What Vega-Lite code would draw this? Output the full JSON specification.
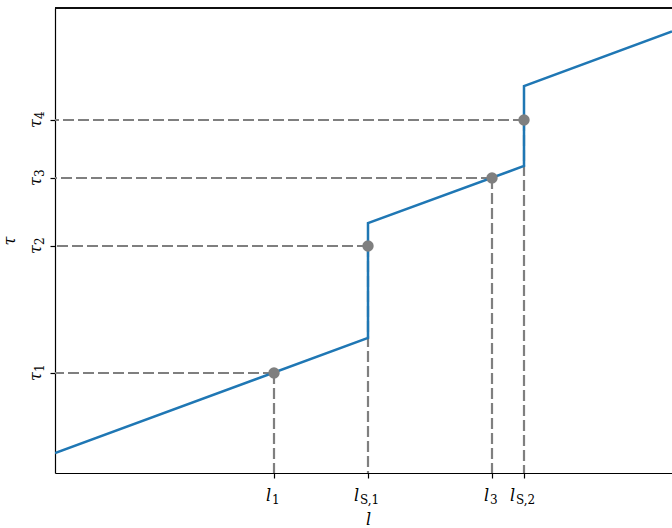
{
  "$schema": "https://vega.github.io/schema/vega-lite/v6.json",
  "width": 617,
  "height": 465,
  "autosize": {"type": "none"},
  "padding": {"left": 55, "top": 8, "right": 0, "bottom": 55},
  "background": "white",
  "config": {"view": {"stroke": null}},
  "datasets": {
    "curve": [
      {"order": 1, "l": 0, "tau": 20},
      {"order": 2, "l": 313, "tau": 135},
      {"order": 3, "l": 313, "tau": 250},
      {"order": 4, "l": 469, "tau": 307},
      {"order": 5, "l": 469, "tau": 387},
      {"order": 6, "l": 617, "tau": 441.5}
    ],
    "pts": [
      {"l": 219, "tau": 100, "name": "1"},
      {"l": 313, "tau": 227, "name": "2"},
      {"l": 437, "tau": 295, "name": "3"},
      {"l": 469, "tau": 353, "name": "4"}
    ],
    "xlabels": [
      {"l": 219, "main": "l", "sub": "1", "kind": "short"},
      {"l": 313, "main": "l", "sub": "S,1", "kind": "long"},
      {"l": 437, "main": "l", "sub": "3", "kind": "short"},
      {"l": 469, "main": "l", "sub": "S,2", "kind": "long"}
    ],
    "ylabels": [
      {"tau": 100, "main": "τ", "sub": "1"},
      {"tau": 227, "main": "τ", "sub": "2"},
      {"tau": 295, "main": "τ", "sub": "3"},
      {"tau": 353, "main": "τ", "sub": "4"}
    ]
  },
  "layer": [
    {
      "data": {"name": "pts"},
      "mark": {"type": "rule", "color": "#7f7f7f", "strokeWidth": 2.2, "strokeDash": [11, 4]},
      "encoding": {
        "x": {"field": "l", "type": "quantitative", "scale": {"domain": [0, 617], "nice": false, "zero": false},
              "axis": {"values": [219, 313, 437, 469], "labels": false, "grid": false, "domainColor": "black", "domainWidth": 1.2,
                       "tickColor": "black", "tickSize": 5, "tickWidth": 1.2,
                       "title": "l", "titleFont": "DejaVu Serif", "titleFontStyle": "italic", "titleFontWeight": "normal",
                       "titleFontSize": 16, "titleColor": "black", "titlePadding": 33, "titleX": 313}},
        "x2": {"datum": 0},
        "y": {"field": "tau", "type": "quantitative", "scale": {"domain": [0, 465], "nice": false, "zero": false},
              "axis": {"values": [100, 227, 295, 353], "labels": false, "grid": false, "domainColor": "black", "domainWidth": 1.2,
                       "tickColor": "black", "tickSize": 5, "tickWidth": 1.2,
                       "title": "τ", "titleFont": "DejaVu Serif", "titleFontStyle": "italic", "titleFontWeight": "normal",
                       "titleFontSize": 16, "titleColor": "black", "titlePadding": 32}}
      }
    },
    {
      "data": {"name": "pts"},
      "mark": {"type": "rule", "color": "#7f7f7f", "strokeWidth": 2.2, "strokeDash": [11, 4]},
      "encoding": {
        "x": {"field": "l", "type": "quantitative"},
        "y": {"field": "tau", "type": "quantitative"},
        "y2": {"datum": 0}
      }
    },
    {
      "data": {"name": "curve"},
      "mark": {"type": "line", "color": "#1f77b4", "strokeWidth": 2.5, "clip": true},
      "encoding": {
        "x": {"field": "l", "type": "quantitative"},
        "y": {"field": "tau", "type": "quantitative"},
        "order": {"field": "order", "type": "quantitative"}
      }
    },
    {
      "data": {"name": "pts"},
      "mark": {"type": "point", "filled": true, "color": "#7f7f7f", "opacity": 1, "size": 130},
      "encoding": {
        "x": {"field": "l", "type": "quantitative"},
        "y": {"field": "tau", "type": "quantitative"}
      }
    },
    {
      "data": {"name": "pts"},
      "mark": {"type": "rule", "color": "black", "strokeWidth": 1.2},
      "encoding": {
        "y": {"datum": 465, "type": "quantitative"}
      }
    },
    {
      "data": {"name": "xlabels"},
      "transform": [{"filter": "datum.kind === 'short'"}],
      "layer": [
        {
          "mark": {"type": "text", "font": "DejaVu Serif", "fontStyle": "italic", "fontSize": 16, "align": "left", "baseline": "alphabetic", "dx": -8, "dy": 28, "color": "black"},
          "encoding": {"x": {"field": "l", "type": "quantitative"}, "y": {"datum": 0, "type": "quantitative"}, "text": {"field": "main"}}
        },
        {
          "mark": {"type": "text", "font": "DejaVu Serif", "fontSize": 12, "align": "left", "baseline": "alphabetic", "dx": -2, "dy": 31, "color": "black"},
          "encoding": {"x": {"field": "l", "type": "quantitative"}, "y": {"datum": 0, "type": "quantitative"}, "text": {"field": "sub"}}
        }
      ]
    },
    {
      "data": {"name": "xlabels"},
      "transform": [{"filter": "datum.kind === 'long'"}],
      "layer": [
        {
          "mark": {"type": "text", "font": "DejaVu Serif", "fontStyle": "italic", "fontSize": 16, "align": "left", "baseline": "alphabetic", "dx": -14, "dy": 28, "color": "black"},
          "encoding": {"x": {"field": "l", "type": "quantitative"}, "y": {"datum": 0, "type": "quantitative"}, "text": {"field": "main"}}
        },
        {
          "mark": {"type": "text", "font": "DejaVu Serif", "fontSize": 12, "align": "left", "baseline": "alphabetic", "dx": -8, "dy": 31, "color": "black"},
          "encoding": {"x": {"field": "l", "type": "quantitative"}, "y": {"datum": 0, "type": "quantitative"}, "text": {"field": "sub"}}
        }
      ]
    },
    {
      "data": {"name": "ylabels"},
      "layer": [
        {
          "mark": {"type": "text", "font": "DejaVu Serif", "fontStyle": "italic", "fontSize": 16, "align": "left", "baseline": "alphabetic", "angle": 270, "dx": -8, "dy": -14, "color": "black"},
          "encoding": {"x": {"datum": 0, "type": "quantitative"}, "y": {"field": "tau", "type": "quantitative"}, "text": {"field": "main"}}
        },
        {
          "mark": {"type": "text", "font": "DejaVu Serif", "fontSize": 12, "align": "left", "baseline": "alphabetic", "angle": 270, "dx": 1, "dy": -11, "color": "black"},
          "encoding": {"x": {"datum": 0, "type": "quantitative"}, "y": {"field": "tau", "type": "quantitative"}, "text": {"field": "sub"}}
        }
      ]
    }
  ]
}
